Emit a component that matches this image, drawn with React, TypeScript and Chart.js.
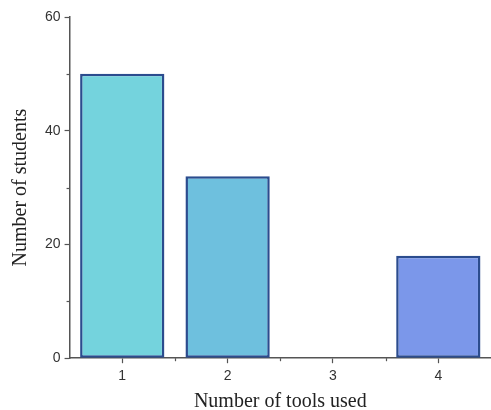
import React, { useEffect, useRef } from "react";
import { Chart, registerables } from "chart.js";

Chart.register(...registerables);

const categories = ["1", "2", "3", "4"];
const students = [50, 32, 0, 18];
const barColors = ["#74D3DD", "#6EC0DE", "#7ACBE0", "#7B97EA"];
const yMajorTicks = [0, 20, 40, 60];
const yMinorTicks = [10, 30, 50];

const minorTicks = {
  id: "minorTicks",
  afterDraw(chart: any) {
    const ctx = chart.ctx;
    const x = chart.scales.x;
    const y = chart.scales.y;
    ctx.save();
    ctx.strokeStyle = "#555";
    ctx.lineWidth = 1.2;
    yMinorTicks.forEach((v) => {
      const py = Math.round(y.getPixelForValue(v)) + 0.5;
      ctx.beginPath();
      ctx.moveTo(y.right, py);
      ctx.lineTo(y.right - 3, py);
      ctx.stroke();
    });
    for (let i = 0; i < categories.length - 1; i++) {
      const px = Math.round((x.getPixelForValue(i) + x.getPixelForValue(i + 1)) / 2) + 0.5;
      ctx.beginPath();
      ctx.moveTo(px, x.top);
      ctx.lineTo(px, x.top + 3);
      ctx.stroke();
    }
    ctx.restore();
  },
};

export default function App() {
  const ref = useRef<HTMLCanvasElement>(null);
  useEffect(() => {
    if (!ref.current) return;
    const chart = new Chart(ref.current, {
      type: "bar",
      data: {
        labels: categories,
        datasets: [
          {
            data: students,
            backgroundColor: barColors,
            borderColor: "#2B4C8E",
            borderWidth: 2.5,
            borderSkipped: false,
            barPercentage: 0.8,
            categoryPercentage: 1.0,
          },
        ],
      },
      options: {
        responsive: true,
        maintainAspectRatio: false,
        animation: false,
        layout: { padding: { top: 17, right: 0, left: 9, bottom: -4 } },
        plugins: { legend: { display: false }, tooltip: { enabled: false } },
        scales: {
          x: {
            offset: true,
            grid: {
              offset: false,
              drawOnChartArea: false,
              drawTicks: true,
              tickLength: 5,
              tickColor: "#555",
              tickWidth: 1.2,
            },
            border: { color: "#555", width: 1.5 },
            ticks: {
              color: "#333",
              font: { family: "Liberation Sans, Arial", size: 14 },
              padding: 5,
              maxRotation: 0,
            },
            title: {
              display: true,
              text: "Number of tools used",
              color: "#222",
              font: { family: "Liberation Serif, Times New Roman", size: 20 },
              padding: { top: 0, bottom: 0 },
            },
          },
          y: {
            min: 0,
            max: 60,
            afterBuildTicks(scale: any) {
              scale.ticks = yMajorTicks.map((v) => ({ value: v }));
            },
            grid: {
              drawOnChartArea: false,
              drawTicks: true,
              tickLength: 5,
              tickColor: "#555",
              tickWidth: 1.2,
            },
            border: { color: "#555", width: 1.5 },
            ticks: {
              color: "#333",
              font: { family: "Liberation Sans, Arial", size: 14 },
              padding: 4,
            },
            title: {
              display: true,
              text: "Number of students",
              color: "#222",
              font: { family: "Liberation Serif, Times New Roman", size: 20 },
              padding: { top: 0, bottom: 8 },
            },
          },
        },
      },
      plugins: [minorTicks],
    });
    return () => chart.destroy();
  }, []);
  return (
    <div style={{ position: "fixed", left: 0, top: 0, width: 491, height: 410, background: "#fff" }}>
      <canvas ref={ref} />
    </div>
  );
}
